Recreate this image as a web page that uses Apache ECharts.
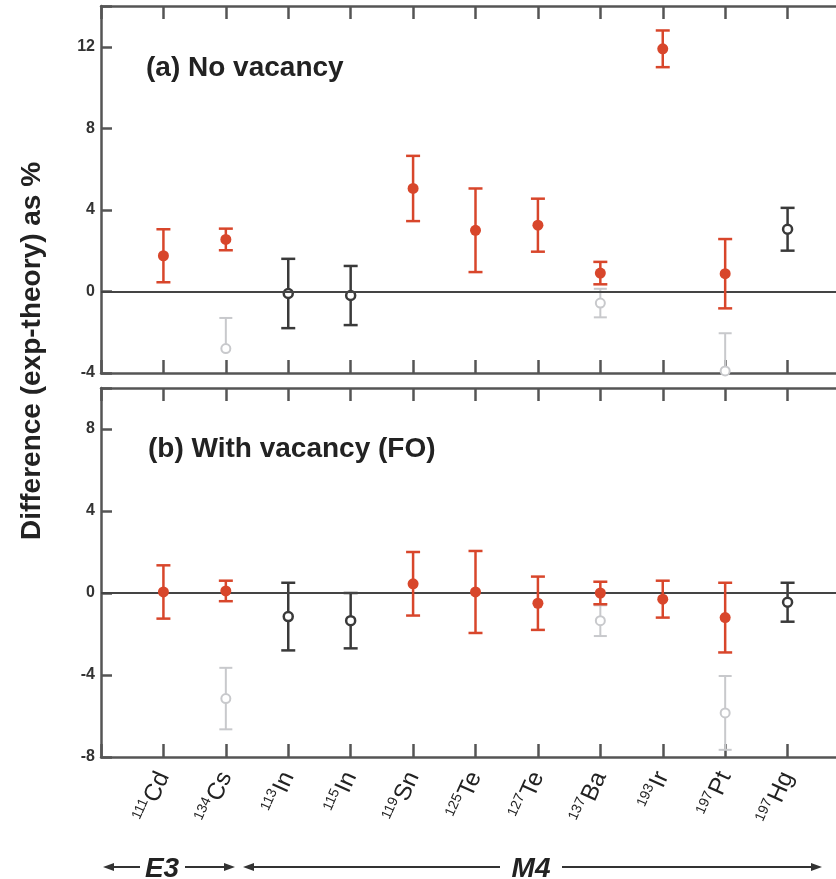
<!DOCTYPE html>
<html>
<head>
<meta charset="utf-8">
<script src="https://cdn.jsdelivr.net/npm/echarts@6/dist/echarts.min.js"></script>
<style>
html,body{margin:0;padding:0;background:#fff;}
#chart{width:836px;height:879px;}
</style>
</head>
<body>
<div id="chart"></div>
<script>
// ---- categories (nuclei) ----
const massNumbers = ['111','134','113','115','119','125','127','137','193','197','197'];
const elements    = ['Cd','Cs','In','In','Sn','Te','Te','Ba','Ir','Pt','Hg'];

// ---- Panel (a): No vacancy ----
const redA        = [1.75, 2.55, null, null, 5.05, 3.0, 3.25, 0.9, 11.9, 0.87, null];
const redAErr     = [1.3, 0.53, null, null, 1.6, 2.05, 1.3, 0.55, 0.9, 1.7, null];
const blackA      = [null, null, -0.1, -0.2, null, null, null, null, null, null, 3.05];
const blackAErr   = [null, null, 1.7, 1.45, null, null, null, null, null, null, 1.05];
const greyA       = [null, -2.8, null, null, null, null, null, -0.57, null, -3.9, null];
const greyAErrUp  = [null, 1.5, null, null, null, null, null, 0.7, null, 1.85, null];
const greyAErrLow = [null, 0, null, null, null, null, null, 0.7, null, 1.85, null];

// ---- Panel (b): With vacancy (FO) ----
const redB      = [0.05, 0.1, null, null, 0.45, 0.05, -0.5, 0.0, -0.3, -1.2, null];
const redBErr   = [1.3, 0.5, null, null, 1.55, 2.0, 1.3, 0.55, 0.9, 1.7, null];
const blackB    = [null, null, -1.15, -1.35, null, null, null, null, null, null, -0.45];
const blackBErr = [null, null, 1.65, 1.35, null, null, null, null, null, null, 0.95];
const greyB     = [null, -5.15, null, null, null, null, null, -1.35, null, -5.85, null];
const greyBErr  = [null, 1.5, null, null, null, null, null, 0.75, null, 1.8, null];

// ---- axis ticks ----
const yTicksA = [-4, 0, 4, 8, 12];
const yTicksB = [-8, -4, 0, 4, 8];

const RED = '#d8462b', BLACK = '#3a3a3a', GREY = '#c8c9cc', AXIS = '#555555';
const FONT = 'Liberation Sans, Arial, sans-serif';

function pts(vals) {
  const out = [];
  vals.forEach((v, i) => { if (v !== null) out.push([i, v]); });
  return out;
}
function bars(vals, errLow, errUp) {
  const out = [];
  vals.forEach((v, i) => { if (v !== null) out.push([i, v - errLow[i], v + errUp[i], v]); });
  return out;
}
function errRender(color, lw, cap) {
  return function (params, api) {
    const x = api.value(0), lo = api.value(1), hi = api.value(2), v = api.value(3);
    const a = api.coord([x, lo]), b = api.coord([x, hi]);
    const h = cap / 2;
    const style = { stroke: color, lineWidth: lw };
    const children = [
      { type: 'line', shape: { x1: a[0], y1: a[1], x2: b[0], y2: b[1] }, style: style },
      { type: 'line', shape: { x1: b[0] - h, y1: b[1], x2: b[0] + h, y2: b[1] }, style: style }
    ];
    if (lo < v) {
      children.push({ type: 'line', shape: { x1: a[0] - h, y1: a[1], x2: a[0] + h, y2: a[1] }, style: style });
    }
    return { type: 'group', children: children };
  };
}

function xAxisDef(grid, pos, labels) {
  return {
    type: 'value', gridIndex: grid, position: pos, min: -1, max: 11, interval: 1,
    axisLine: { show: true, onZero: false, lineStyle: { color: AXIS, width: 2.5 } },
    axisTick: { show: true, inside: true, length: 13, lineStyle: { color: AXIS, width: 2.5 } },
    splitLine: { show: false },
    axisLabel: {
      show: labels, rotate: 66, margin: 16, color: '#222', fontFamily: FONT,
      formatter: function (v) {
        if (v < 0 || v > 10 || Math.round(v) !== v) return '';
        return '{sup|' + massNumbers[v] + '}{el|' + elements[v] + '}';
      },
      rich: {
        sup: { fontSize: 14, lineHeight: 14, padding: [0, 1, 13, 0], fontFamily: FONT, color: '#222' },
        el: { fontSize: 24, lineHeight: 25, fontFamily: FONT, color: '#222' }
      }
    }
  };
}
function yAxisDef(grid, min, max, ticks) {
  return {
    type: 'value', gridIndex: grid, min: min, max: max, interval: 4,
    axisLine: { show: true, onZero: false, lineStyle: { color: AXIS, width: 2.5 } },
    axisTick: { show: true, inside: true, length: 11, lineStyle: { color: AXIS, width: 2.5 } },
    splitLine: { show: false },
    axisLabel: {
      show: true, margin: 6, color: '#333', fontSize: 16, fontWeight: 'bold', fontFamily: FONT,
      formatter: function (v) { return ticks.indexOf(v) >= 0 ? String(v) : ''; }
    }
  };
}

function panelSeries(xi, yi, red, redErr, black, blackErr, grey, greyErrLow, greyErrUp) {
  return [
    { type: 'custom', xAxisIndex: xi, yAxisIndex: yi, clip: true, z: 1,
      renderItem: errRender(GREY, 2, 13), data: bars(grey, greyErrLow, greyErrUp),
      markLine: { silent: true, symbol: 'none', label: { show: false },
        lineStyle: { color: '#444', width: 2.2, type: 'solid' }, data: [{ yAxis: 0 }] } },
    { type: 'scatter', xAxisIndex: xi, yAxisIndex: yi, z: 2, symbol: 'circle', symbolSize: 9,
      itemStyle: { color: '#fff', borderColor: GREY, borderWidth: 2, opacity: 1 }, data: pts(grey) },
    { type: 'custom', xAxisIndex: xi, yAxisIndex: yi, clip: true, z: 3,
      renderItem: errRender(BLACK, 2.5, 14), data: bars(black, blackErr, blackErr) },
    { type: 'scatter', xAxisIndex: xi, yAxisIndex: yi, z: 4, symbol: 'circle', symbolSize: 9,
      itemStyle: { color: '#fff', borderColor: BLACK, borderWidth: 2.5, opacity: 1 }, data: pts(black) },
    { type: 'custom', xAxisIndex: xi, yAxisIndex: yi, clip: true, z: 5,
      renderItem: errRender(RED, 2.5, 14), data: bars(red, redErr, redErr) },
    { type: 'scatter', xAxisIndex: xi, yAxisIndex: yi, z: 6, symbol: 'circle', symbolSize: 11,
      itemStyle: { color: RED, opacity: 1 }, data: pts(red) }
  ];
}

const chart = echarts.init(document.getElementById('chart'), null, { renderer: 'canvas' });

function arrowHead(tipX, y, dir) {
  return { type: 'polygon', shape: { points: [[tipX, y], [tipX - dir * 11, y - 4], [tipX - dir * 11, y + 4]] },
    style: { fill: '#333' } };
}
function hline(x1, x2, y) {
  return { type: 'line', shape: { x1: x1, y1: y, x2: x2, y2: y }, style: { stroke: '#333', lineWidth: 2 } };
}
const AY = 867;

chart.setOption({
  animation: false,
  backgroundColor: '#fff',
  grid: [
    { left: 101, width: 749, top: 6, height: 367, outerBoundsMode: 'none', containLabel: false },
    { left: 101, width: 749, top: 388, height: 369, outerBoundsMode: 'none', containLabel: false }
  ],
  xAxis: [xAxisDef(0, 'bottom', false), xAxisDef(0, 'top', false), xAxisDef(1, 'bottom', true), xAxisDef(1, 'top', false)],
  yAxis: [yAxisDef(0, -4, 14, yTicksA), yAxisDef(1, -8, 10, yTicksB)],
  series: [].concat(
    panelSeries(0, 0, redA, redAErr, blackA, blackAErr, greyA, greyAErrLow, greyAErrUp),
    panelSeries(2, 1, redB, redBErr, blackB, blackBErr, greyB, greyBErr, greyBErr)
  ),
  graphic: [
    { type: 'text', x: 32, y: 351, rotation: Math.PI / 2,
      style: { text: 'Difference (exp-theory) as %', fontSize: 28, fontWeight: 'bold', fontFamily: FONT,
        fill: '#222', align: 'center', verticalAlign: 'middle' } },
    { type: 'text', x: 146, y: 68,
      style: { text: '(a) No vacancy', fontSize: 28, fontWeight: 'bold', fontFamily: FONT,
        fill: '#222', align: 'left', verticalAlign: 'middle' } },
    { type: 'text', x: 148, y: 449,
      style: { text: '(b) With vacancy (FO)', fontSize: 28, fontWeight: 'bold', fontFamily: FONT,
        fill: '#222', align: 'left', verticalAlign: 'middle' } },
    hline(108, 140, AY), arrowHead(103, AY, -1),
    { type: 'text', x: 162, y: AY + 2,
      style: { text: 'E3', fontSize: 28, fontWeight: 'bold', fontStyle: 'italic', fontFamily: FONT,
        fill: '#222', align: 'center', verticalAlign: 'middle' } },
    hline(185, 230, AY), arrowHead(235, AY, 1),
    hline(248, 500, AY), arrowHead(243, AY, -1),
    { type: 'text', x: 531, y: AY + 2,
      style: { text: 'M4', fontSize: 28, fontWeight: 'bold', fontStyle: 'italic', fontFamily: FONT,
        fill: '#222', align: 'center', verticalAlign: 'middle' } },
    hline(562, 817, AY), arrowHead(822, AY, 1)
  ]
});
</script>
</body>
</html>
